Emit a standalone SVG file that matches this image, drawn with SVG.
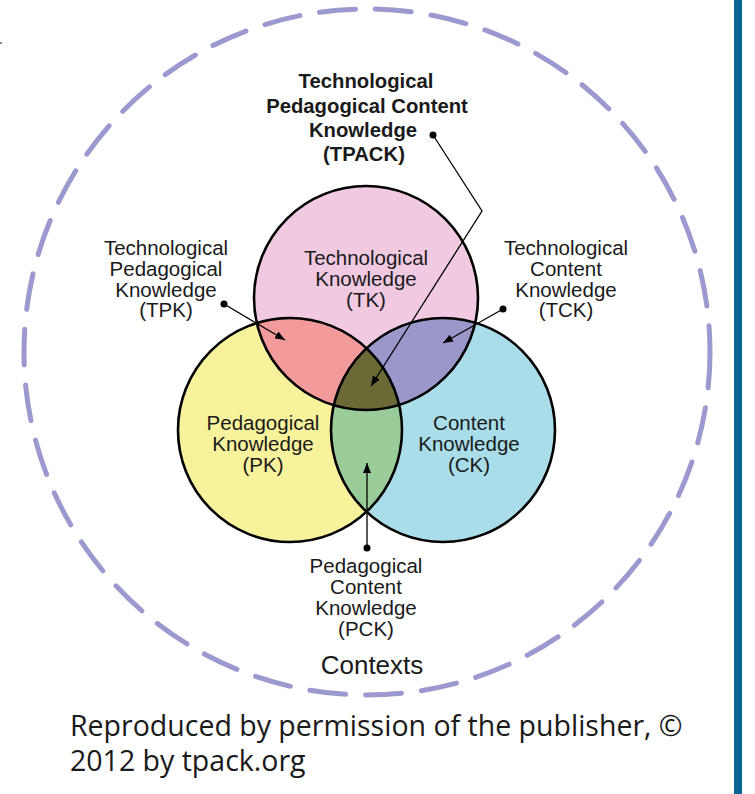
<svg xmlns="http://www.w3.org/2000/svg" width="755" height="794" viewBox="0 0 755 794">
<style>
.lbl{font-family:"Liberation Sans",Arial,sans-serif;font-size:20.5px;fill:#1a1a1a;text-anchor:middle}
.bold{font-weight:bold;font-size:20.3px}
.cap{font-family:"Open Sans","Noto Sans",sans-serif;font-size:28.5px;fill:#1a1a1a}
.ring{fill:none;stroke:#000;stroke-width:2.6}
.ln{fill:none;stroke:#000;stroke-width:1.3}
</style>
<defs>
<clipPath id="cTK"><circle cx="366" cy="298" r="112"/></clipPath>
<clipPath id="cPK"><circle cx="290" cy="430" r="112"/></clipPath>
<clipPath id="cCK"><circle cx="443" cy="430" r="112"/></clipPath>
<marker id="ah" viewBox="0 0 10 8" refX="10" refY="4" markerWidth="10" markerHeight="8" markerUnits="userSpaceOnUse" orient="auto">
<path d="M0,0 L10,4 L0,8 Z" fill="#000"/>
</marker>
</defs>
<rect width="755" height="794" fill="#fff"/>
<rect x="0" y="42" width="2" height="2" fill="#888"/>
<rect x="734" y="0" width="8" height="794" fill="#07628f"/>

<g id="contexts">
<circle cx="367" cy="352" r="343" fill="none" stroke="#9b99cf" stroke-width="5" stroke-linecap="round" stroke-dasharray="36 20"/>
<text class="lbl" x="372" y="674" style="font-size:26px">Contexts</text>
</g>

<g id="tk"><circle cx="366" cy="298" r="112" fill="#f1c9e1"/></g>
<g id="pk"><circle cx="290" cy="430" r="112" fill="#f9f29c"/></g>
<g id="ck"><circle cx="443" cy="430" r="112" fill="#a8dde9"/></g>
<g id="tpk"><circle cx="290" cy="430" r="112" fill="#f39a9b" clip-path="url(#cTK)"/></g>
<g id="tck"><circle cx="443" cy="430" r="112" fill="#9b97cb" clip-path="url(#cTK)"/></g>
<g id="pck"><circle cx="443" cy="430" r="112" fill="#99cc99" clip-path="url(#cPK)"/></g>
<g id="tpack"><g clip-path="url(#cTK)"><circle cx="443" cy="430" r="112" fill="#6b6936" clip-path="url(#cPK)"/></g></g>
<g id="outlines">
<circle class="ring" cx="366" cy="298" r="112"/>
<circle class="ring" cx="290" cy="430" r="112"/>
<circle class="ring" cx="443" cy="430" r="112"/>
</g>

<g id="tk-label" class="lbl">
<text x="366" y="265">Technological</text>
<text x="366" y="285.8">Knowledge</text>
<text x="366" y="306.6">(TK)</text>
</g>
<g id="pk-label" class="lbl">
<text x="263" y="430">Pedagogical</text>
<text x="263" y="450.8">Knowledge</text>
<text x="263" y="471.6">(PK)</text>
</g>
<g id="ck-label" class="lbl">
<text x="469" y="430">Content</text>
<text x="469" y="450.8">Knowledge</text>
<text x="469" y="471.6">(CK)</text>
</g>
<g id="tpack-label" class="lbl bold">
<text x="366" y="88">Technological</text>
<text x="367" y="113">Pedagogical Content</text>
<text x="363" y="137">Knowledge</text>
<text x="364" y="161">(TPACK)</text>
</g>
<g id="tpk-label" class="lbl">
<text x="166" y="255">Technological</text>
<text x="166" y="275.8">Pedagogical</text>
<text x="166" y="296.6">Knowledge</text>
<text x="166" y="317.4">(TPK)</text>
</g>
<g id="tck-label" class="lbl">
<text x="566" y="255">Technological</text>
<text x="566" y="275.8">Content</text>
<text x="566" y="296.6">Knowledge</text>
<text x="566" y="317.4">(TCK)</text>
</g>
<g id="pck-label" class="lbl">
<text x="366" y="573">Pedagogical</text>
<text x="366" y="594">Content</text>
<text x="366" y="615">Knowledge</text>
<text x="366" y="636">(PCK)</text>
</g>

<g id="connectors">
<path class="ln" d="M224,304 L285,340" marker-end="url(#ah)"/>
<circle cx="224" cy="304" r="3.5"/>
<path class="ln" d="M503,309 L443,343" marker-end="url(#ah)"/>
<circle cx="503" cy="309" r="3.5"/>
<path class="ln" d="M433,135 L482,211 L371,386" marker-end="url(#ah)"/>
<circle cx="433" cy="135" r="3.5"/>
<path class="ln" d="M367,548 L367,463" marker-end="url(#ah)"/>
<circle cx="367" cy="548" r="3.5"/>
</g>

<g id="caption" class="cap">
<text x="70" y="736">Reproduced by permission of the publisher, ©</text>
<text x="70" y="771">2012 by tpack.org</text>
</g>
</svg>
